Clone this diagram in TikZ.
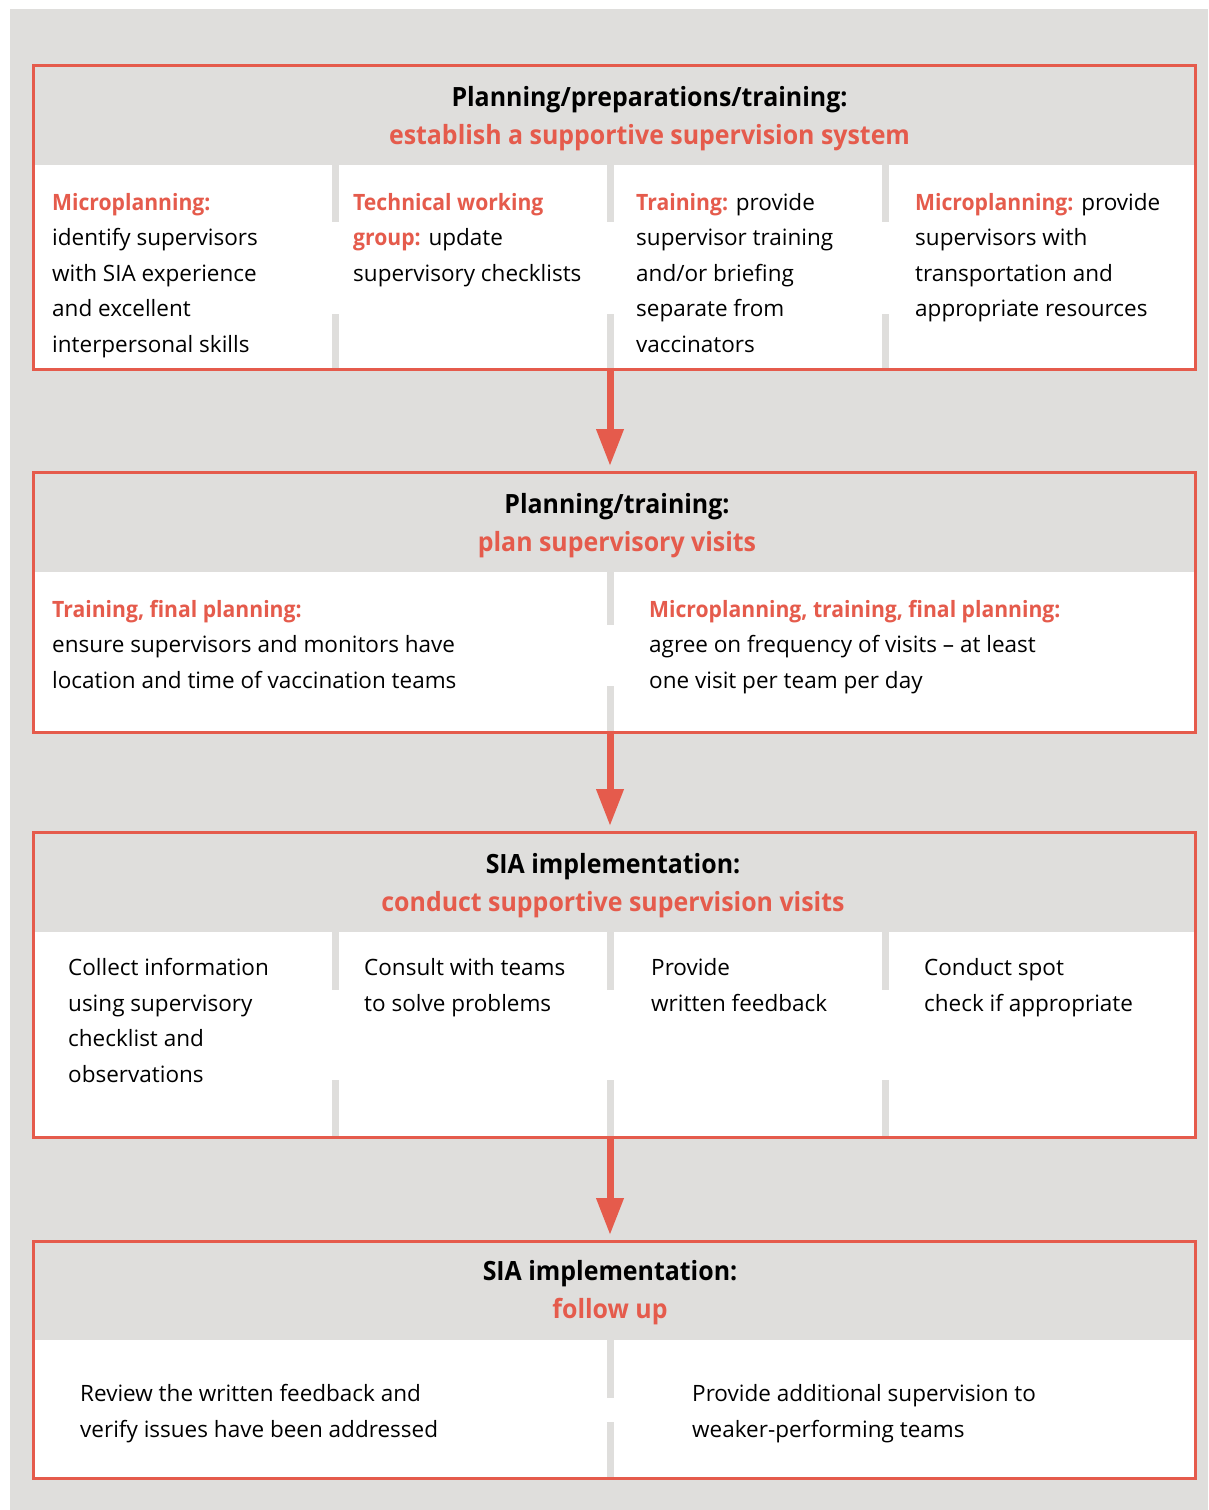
\documentclass[tikz,border=0pt]{standalone}
\usepackage{fontspec}
\setmainfont{Open Sans}
\newfontfamily\hdfont[FakeStretch=0.94]{Open Sans}
\definecolor{slred}{RGB}{229,91,76}
\definecolor{slgray}{RGB}{223,222,220}
\usetikzlibrary{arrows.meta}
\newcommand{\lbl}[1]{{\color{slred}\hdfont\bfseries #1}}
\newcommand{\bodyfont}{\fontsize{22.5}{35.5}\selectfont}
\newcommand{\headfont}{\fontsize{26.5}{38}\selectfont\hdfont\bfseries}

\begin{document}
\begin{tikzpicture}[x=1pt,y=-1pt,
    hd/.style={fill=slgray,inner sep=0,outer sep=0,minimum width=1162pt},
    bd/.style={fill=white,inner sep=0,outer sep=0,minimum width=1162pt},
    frame/.style={draw=slred,line width=3pt},
    sepbar/.style={draw=slgray,line width=7.5pt},
    ttl/.style={anchor=north,inner sep=0,align=center,font=\headfont},
    txt/.style={anchor=north west,inner sep=0,align=left,font=\bodyfont},
    arr/.style={-{Triangle[length=37pt,width=26pt]},draw=slred,line width=7pt,shorten >=6.5pt}]
  \useasboundingbox (0,0) rectangle (1208,1510);
  \fill[slgray] (10,9) rectangle (1208,1510);

  %% Stage 1: planning/preparations/training
  \node[hd,minimum height=99.5pt]  (hd1) at (614.5,115.25) {};
  \node[bd,minimum height=204.5pt] (bd1) at (614.5,267.25) {};
  \draw[sepbar] (335.5,165) -- (335.5,222) (335.5,314) -- (335.5,369.5);
  \draw[sepbar] (610.5,165) -- (610.5,222) (610.5,314) -- (610.5,369.5);
  \draw[sepbar] (885.5,165) -- (885.5,222) (885.5,314) -- (885.5,369.5);
  \draw[frame] (hd1.north west) rectangle (bd1.south east);
  \node[ttl] (t1) at (649.5,79.9)
        {\strut Planning/preparations/training:\\
         \color{slred}establish a supportive supervision system};
  \node[txt] (c11) at (52,185.15)
        {\strut\lbl{Microplanning:}\\ identify supervisors\\ with SIA experience\\
         and excellent\\ interpersonal skills};
  \node[txt] (c12) at (353,185.15)
        {\strut\lbl{Technical working}\\ \lbl{group:} update\\ supervisory checklists};
  \node[txt] (c13) at (636,185.15)
        {\strut\lbl{Training:} provide\\ supervisor training\\ and/or briefing\\
         separate from\\ vaccinators};
  \node[txt] (c14) at (915,185.15)
        {\strut\lbl{Microplanning:} provide\\ supervisors with\\ transportation and\\
         appropriate resources};

  %% Stage 2: planning/training
  \node[hd,minimum height=99.5pt]  (hd2) at (614.5,522.25) {};
  \node[bd,minimum height=160.5pt] (bd2) at (614.5,652.25) {};
  \draw[sepbar] (610.5,572) -- (610.5,624.5) (610.5,686) -- (610.5,732.5);
  \draw[frame] (hd2.north west) rectangle (bd2.south east);
  \node[ttl] (t2) at (617,486.4)
        {\strut Planning/training:\\ \color{slred}plan supervisory visits};
  \node[txt] (c21) at (52,592.15)
        {\strut\lbl{Training, final planning:}\\ ensure supervisors and monitors have\\
         location and time of vaccination teams};
  \node[txt] (c22) at (649,592.15)
        {\strut\lbl{Microplanning, training, final planning:}\\
         agree on frequency of visits – at least\\ one visit per team per day};

  %% Stage 3: SIA implementation, visits
  \node[hd,minimum height=99.5pt] (hd3) at (614.5,882.25) {};
  \node[bd,minimum height=205pt]  (bd3) at (614.5,1034.5) {};
  \draw[sepbar] (335.5,932) -- (335.5,990) (335.5,1080) -- (335.5,1137);
  \draw[sepbar] (610.5,932) -- (610.5,990) (610.5,1080) -- (610.5,1137);
  \draw[sepbar] (885.5,932) -- (885.5,990) (885.5,1080) -- (885.5,1137);
  \draw[frame] (hd3.north west) rectangle (bd3.south east);
  \node[ttl] (t3) at (613,846.4)
        {\strut SIA implementation:\\ \color{slred}conduct supportive supervision visits};
  \node[txt] (c31) at (68,950.65)
        {\strut Collect information\\ using supervisory\\ checklist and\\ observations};
  \node[txt] (c32) at (364,950.65) {\strut Consult with teams\\ to solve problems};
  \node[txt] (c33) at (651,950.65) {\strut Provide\\ written feedback};
  \node[txt] (c34) at (924,950.65) {\strut Conduct spot\\ check if appropriate};

  %% Stage 4: SIA implementation, follow up
  \node[hd,minimum height=98.5pt]  (hd4) at (614.5,1290.75) {};
  \node[bd,minimum height=138.5pt] (bd4) at (614.5,1409.25) {};
  \draw[sepbar] (610.5,1340) -- (610.5,1398) (610.5,1422) -- (610.5,1478.5);
  \draw[frame] (hd4.north west) rectangle (bd4.south east);
  \node[ttl] (t4) at (610,1253.4)
        {\strut SIA implementation:\\ \color{slred}follow up};
  \node[txt] (c41) at (80,1376.65)
        {\strut Review the written feedback and\\ verify issues have been addressed};
  \node[txt] (c42) at (692,1376.65)
        {\strut Provide additional supervision to\\ weaker-performing teams};

  \draw[arr] ([xshift=-4.5pt]bd1.south) -- ([xshift=-4.5pt]hd2.north);
  \draw[arr] ([xshift=-4.5pt]bd2.south) -- ([xshift=-4.5pt]hd3.north);
  \draw[arr] ([xshift=-4.5pt]bd3.south) -- ([xshift=-4.5pt]hd4.north);
\end{tikzpicture}
\end{document}
